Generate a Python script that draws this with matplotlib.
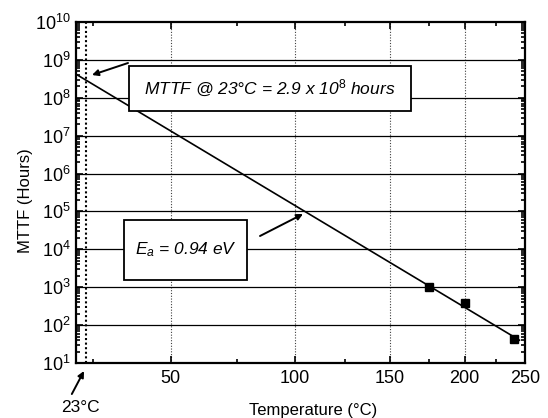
import matplotlib
matplotlib.use('Agg')
import matplotlib.pyplot as plt
import matplotlib.ticker as mticker
from matplotlib.patches import Rectangle
import numpy as np

plt.rcParams['font.family'] = ['Liberation Sans', 'DejaVu Sans']
plt.rcParams['mathtext.fontset'] = 'custom'
plt.rcParams['mathtext.rm'] = 'Liberation Sans'
plt.rcParams['mathtext.it'] = 'Liberation Sans:italic'

# Arrhenius fit line (end points)
line_temp = [20, 245]
line_mttf = [4.2e8, 40]

# measured points
meas_temp = [175, 200, 240]
meas_mttf = [1000, 380, 43]

xticks_major = [50, 100, 150, 200, 250]
xticks_minor = [25, 75, 125, 175, 225]
t_ref = 23

W, H = 548, 418
AX_L, AX_R, AX_T, AX_B = 76, 525, 22, 363


def px(x, y):
    # figure pixel -> axes fraction
    return (x - AX_L) / (AX_R - AX_L), (AX_B - y) / (AX_B - AX_T)


def fwd(t):
    return -1.0 / (np.asarray(t, dtype=float) + 273.15)


def inv(u):
    return -1.0 / np.asarray(u, dtype=float) - 273.15


fig = plt.figure(figsize=(W / 100, H / 100), dpi=100)
ax = fig.add_axes([AX_L / W, 1 - AX_B / H, (AX_R - AX_L) / W, (AX_B - AX_T) / H])

ax.set_xscale('function', functions=(fwd, inv))
ax.set_yscale('log')
ax.set_xlim(20, 250)
ax.set_ylim(10, 1e10)

# grid
for t in xticks_major[:-1]:
    ax.axvline(t, color='0.25', lw=0.8, ls=(0, (1, 1.5)), zorder=1)
ax.axvline(t_ref, color='k', lw=1.5, ls=(0, (1, 1.2)), zorder=1)
for e in range(2, 10):
    ax.axhline(10.0**e, color='k', lw=0.9, zorder=1)

ax.plot(line_temp, line_mttf, color='k', lw=1.2, zorder=2)
ax.plot(meas_temp, meas_mttf, ls='none', marker='s', ms=6, color='k', zorder=3)

# ticks
ax.xaxis.set_major_locator(mticker.FixedLocator(xticks_major))
ax.xaxis.set_minor_locator(mticker.FixedLocator(xticks_minor))
ax.xaxis.set_major_formatter(mticker.FixedFormatter([str(t) for t in xticks_major]))
ax.xaxis.set_minor_formatter(mticker.NullFormatter())
ax.yaxis.set_major_locator(mticker.LogLocator(base=10, numticks=20))
ax.yaxis.set_minor_locator(mticker.LogLocator(base=10, subs=np.arange(2, 10), numticks=20))
ax.tick_params(which='both', direction='in', top=True, right=True, width=1.2)
ax.tick_params(which='major', length=5, labelsize=13)
ax.tick_params(which='minor', length=3)
ax.tick_params(axis='x', which='major', pad=5)
ax.tick_params(axis='y', which='major', pad=4)
for s in ax.spines.values():
    s.set_linewidth(1.6)

ax.set_xlabel('Temperature (°C)', fontsize=12)
ax.xaxis.set_label_coords(*px(313, 403))
ax.set_ylabel('MTTF (Hours)', fontsize=12)
ax.yaxis.set_label_coords(*px(33, 201))

# annotation boxes
x0, y0 = px(129, 111)
x1, y1 = px(411, 66)
ax.add_patch(Rectangle((x0, y0), x1 - x0, y1 - y0, transform=ax.transAxes,
                       facecolor='white', edgecolor='k', lw=1.3, zorder=4))
ax.text((x0 + x1) / 2, (y0 + y1) / 2,
        r'MTTF @ 23°C = 2.9 x 10$^{8}$ hours', transform=ax.transAxes,
        ha='center', va='center', fontsize=12.5, style='italic', zorder=5)

x0, y0 = px(124, 280)
x1, y1 = px(247, 220)
ax.add_patch(Rectangle((x0, y0), x1 - x0, y1 - y0, transform=ax.transAxes,
                       facecolor='white', edgecolor='k', lw=1.3, zorder=4))
ax.text((x0 + x1) / 2, (y0 + y1) / 2, r'$E_a$ = 0.94 eV', transform=ax.transAxes,
        ha='center', va='center', fontsize=12.5, style='italic', zorder=5)

arrow = dict(arrowstyle='-|>', color='k', lw=1.4, mutation_scale=9, shrinkA=0, shrinkB=0)
ax.annotate('', xy=px(92, 75), xytext=px(128, 63), xycoords='axes fraction',
            textcoords='axes fraction', arrowprops=arrow, zorder=5)
ax.annotate('', xy=px(303, 214), xytext=px(260, 236), xycoords='axes fraction',
            textcoords='axes fraction', arrowprops=arrow, zorder=5)
ax.annotate('23°C', xy=px(84, 371), xytext=px(80, 408), xycoords='axes fraction',
            textcoords='axes fraction', ha='center', va='center', fontsize=12.5,
            arrowprops=dict(arrow, relpos=(0.2, 1.0), shrinkA=3),
            annotation_clip=False)

fig.savefig('out.png', dpi=100)
